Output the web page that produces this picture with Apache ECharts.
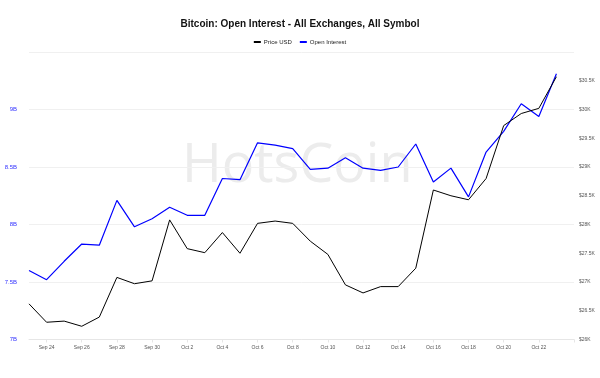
<!DOCTYPE html>
<html>
<head>
<meta charset="utf-8">
<script src="https://cdn.jsdelivr.net/npm/echarts@6/dist/echarts.min.js"></script>
<style>
html, body { margin: 0; padding: 0; background: #fff; }
#main { width: 600px; height: 378px; }
</style>
</head>
<body>
<div id="main"></div>
<script>
//日期
var days = ['Sep 23', 'Sep 24', 'Sep 25', 'Sep 26', 'Sep 27', 'Sep 28', 'Sep 29', 'Sep 30',
	'Oct 1', 'Oct 2', 'Oct 3', 'Oct 4', 'Oct 5', 'Oct 6', 'Oct 7', 'Oct 8', 'Oct 9', 'Oct 10',
	'Oct 11', 'Oct 12', 'Oct 13', 'Oct 14', 'Oct 15', 'Oct 16', 'Oct 17', 'Oct 18', 'Oct 19',
	'Oct 20', 'Oct 21', 'Oct 22', 'Oct 23', 'Oct 24'];
//持仓量(十亿)
var openInterest = [7.60, 7.52, 7.68, 7.83, 7.82, 8.21, 7.98, 8.05, 8.15, 8.08, 8.08, 8.40,
	8.39, 8.71, 8.69, 8.66, 8.48, 8.49, 8.58, 8.49, 8.47, 8.50, 8.70, 8.37, 8.49, 8.24, 8.63,
	8.81, 9.05, 8.94, 9.31, null];
//价格(美元)
var priceUsd = [26620, 26300, 26320, 26230, 26390, 27080, 26970, 27020, 28080, 27580, 27510,
	27860, 27500, 28020, 28060, 28020, 27710, 27480, 26950, 26810, 26920, 26920, 27240, 28600,
	28500, 28430, 28800, 29720, 29930, 30020, 30570, null];

var chart = echarts.init(document.getElementById('main'));

var smallFont = 'Liberation Sans, Arial, sans-serif';

var option = {
	animation: false,
	backgroundColor: '#fff',
	title: {
		text: 'Bitcoin: Open Interest - All Exchanges, All Symbol',
		left: 'center',
		top: 14,
		textStyle: {
			fontFamily: smallFont,
			fontSize: 10,
			fontWeight: 'bold',
			color: '#111'
		}
	},
	legend: {
		top: 34,
		left: 'center',
		itemWidth: 7,
		itemHeight: 2,
		itemGap: 8,
		icon: 'rect',
		textStyle: { fontFamily: smallFont, fontSize: 6, color: '#222', padding: [0, 0, 0, -2] },
		data: ['Price USD', 'Open Interest']
	},
	graphic: [{
		type: 'text',
		left: 182,
		top: 140,
		silent: true,
		z: 0,
		style: {
			text: 'HotsCoin',
			font: '54px "Open Sans", sans-serif',
			fill: '#ececec'
		}
	}],
	grid: {
		left: 29,
		right: 26,
		top: 52,
		bottom: 38.5
	},
	xAxis: {
		type: 'category',
		boundaryGap: false,
		data: days,
		axisLine: { lineStyle: { color: '#e6e6e6' } },
		axisTick: {
			show: true,
			length: 3,
			lineStyle: { color: '#e6e6e6' },
			interval: function(idx) { return idx % 2 === 1; }
		},
		axisLabel: {
			fontFamily: smallFont,
			fontSize: 5,
			color: '#555',
			margin: 6,
			interval: function(idx) { return idx % 2 === 1 && idx < 30; }
		}
	},
	yAxis: [{
		type: 'value',
		position: 'left',
		min: 7,
		max: 9.5,
		interval: 0.5,
		axisLabel: {
			fontFamily: smallFont,
			fontSize: 6,
			color: '#3333ff',
			margin: 12,
			showMaxLabel: false,
			formatter: function(v) { return v + 'B'; }
		},
		axisLine: { show: false },
		axisTick: { show: false },
		splitLine: { lineStyle: { color: '#f0f0f0' } }
	}, {
		type: 'value',
		position: 'right',
		min: 26000,
		max: 31000,
		interval: 500,
		axisLabel: {
			fontFamily: smallFont,
			fontSize: 5,
			color: '#555',
			margin: 5,
			showMaxLabel: false,
			formatter: function(v) { return '$' + (v / 1000) + 'K'; }
		},
		axisLine: { show: false },
		axisTick: { show: false },
		splitLine: { show: false }
	}],
	series: [{
		name: 'Price USD',
		type: 'line',
		yAxisIndex: 1,
		data: priceUsd,
		symbol: 'none',
		z: 3,
		lineStyle: { color: '#000', width: 1 },
		itemStyle: { color: '#000' }
	}, {
		name: 'Open Interest',
		type: 'line',
		yAxisIndex: 0,
		data: openInterest,
		symbol: 'none',
		z: 2,
		lineStyle: { color: '#0000ff', width: 1.2 },
		itemStyle: { color: '#0000ff' }
	}]
};
chart.setOption(option);
</script>
</body>
</html>
